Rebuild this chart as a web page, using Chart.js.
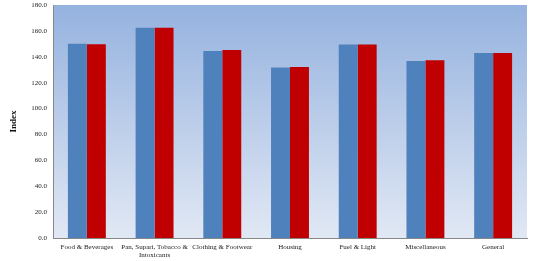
<!DOCTYPE html>
<html><head><meta charset="utf-8">
<script src="https://cdn.jsdelivr.net/npm/chart.js@4/dist/chart.umd.min.js"></script>
<style>html,body{margin:0;padding:0;background:#fff}#wrap{width:533px;height:261px}</style>
</head><body><div id="wrap"><canvas id="c" width="533" height="261"></canvas></div>
<script>
const categories = ["Food & Beverages", ["Pan, Supari, Tobacco &", "Intoxicants"], "Clothing & Footwear", "Housing", "Fuel & Light", "Miscellaneous", "General"];
const seriesA = [150.1, 162.5, 144.5, 131.8, 149.4, 136.8, 143.0];
const seriesB = [149.6, 162.4, 145.3, 132.1, 149.4, 137.3, 143.0];
const yTicks = [0, 20, 40, 60, 80, 100, 120, 140, 160, 180];

const bgPlugin = {
  id: 'bg',
  beforeDraw(chart) {
    const {ctx, chartArea: a} = chart;
    const g = ctx.createLinearGradient(0, a.top, 0, a.bottom);
    g.addColorStop(0, '#95b2df');
    g.addColorStop(1, '#e1e8f4');
    ctx.save();
    ctx.fillStyle = g;
    ctx.fillRect(a.left, a.top, a.right - a.left, a.bottom - a.top);
    ctx.restore();
  }
};

new Chart(document.getElementById('c'), {
  type: 'bar',
  data: {
    labels: categories,
    datasets: [
      {label: 'A', data: seriesA, backgroundColor: '#4f81bd', barPercentage: 1, categoryPercentage: 0.56},
      {label: 'B', data: seriesB, backgroundColor: '#c00000', barPercentage: 1, categoryPercentage: 0.56}
    ]
  },
  options: {
    responsive: false,
    animation: false,
    layout: {padding: {left: 8, right: 6, top: 0, bottom: 0}, autoPadding: false},
    plugins: {legend: {display: false}, tooltip: {enabled: false}},
    scales: {
      x: {
        grid: {display: false, drawTicks: true, tickLength: 3},
        border: {color: '#888'},
        ticks: {color: '#222', font: {family: 'Liberation Serif', size: 7}, maxRotation: 0, autoSkip: false, padding: 2},
        afterFit(s) { s.height = 23; s.paddingTop = 5; }
      },
      y: {
        min: 0, max: 180,
        afterBuildTicks(s) { s.ticks = yTicks.map(v => ({value: v})); },
        grid: {display: false, drawTicks: true, tickLength: 3},
        border: {color: '#888'},
        ticks: {color: '#222', font: {family: 'Liberation Serif', size: 7}, padding: 3, callback: v => Number(v).toFixed(1)},
        title: {display: true, text: 'Index', color: '#111', font: {family: 'Liberation Serif', size: 9, weight: 'bold'}, padding: {top: 0, bottom: 12}},
        afterFit(s) { s.width = 45; s.paddingTop = 5; s.paddingBottom = 0; }
      }
    }
  },
  plugins: [bgPlugin]
});
</script></body></html>
